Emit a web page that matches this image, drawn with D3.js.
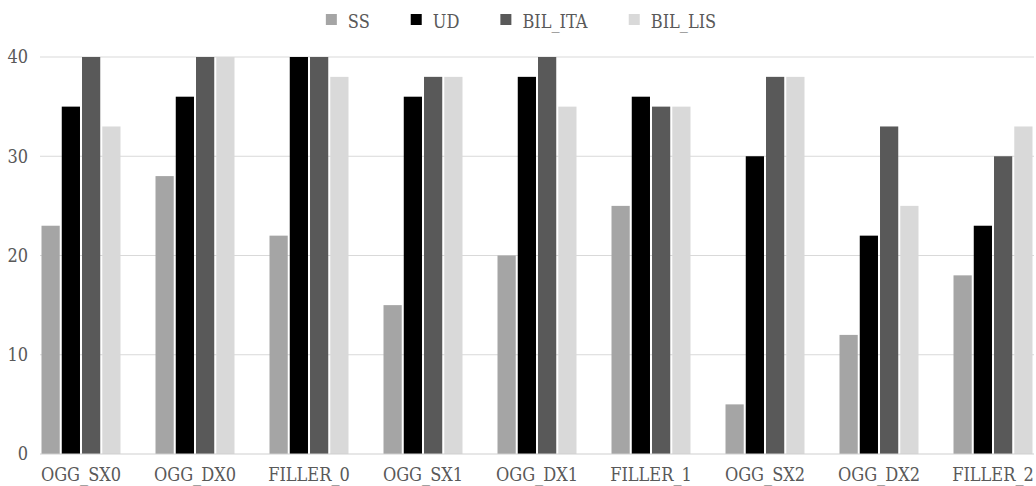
<!DOCTYPE html>
<html>
<head>
<meta charset="utf-8">
<script src="https://cdn.jsdelivr.net/npm/d3@7"></script>
<style>
  html, body { margin: 0; padding: 0; background: #ffffff; }
  svg { display: block; }
  svg text { font-family: "DejaVu Serif Condensed", "DejaVu Serif", serif !important; fill: #595959; }
</style>
</head>
<body>
<svg id="chart" width="1036" height="486"></svg>
<script>
// Categories and series
const categories = ["OGG_SX0", "OGG_DX0", "FILLER_0", "OGG_SX1", "OGG_DX1", "FILLER_1", "OGG_SX2", "OGG_DX2", "FILLER_2"];
const seriesNames = ["SS", "UD", "BIL_ITA", "BIL_LIS"];
const ssValues     = [23, 28, 22, 15, 20, 25, 5, 12, 18];
const udValues     = [35, 36, 40, 36, 38, 36, 30, 22, 23];
const bilItaValues = [40, 40, 40, 38, 40, 35, 38, 33, 30];
const bilLisValues = [33, 40, 38, 38, 35, 35, 38, 25, 33];
const yTicks = [0, 10, 20, 30, 40];
const seriesColors = ["#a5a5a5", "#000000", "#595959", "#d9d9d9"];

const seriesValues = [ssValues, udValues, bilItaValues, bilLisValues];
const rows = categories.map((c, i) => ({
  category: c,
  values: seriesNames.map((s, j) => ({ series: s, value: seriesValues[j][i] }))
}));

const svg = d3.select("#chart");
const gridLeft = 40, gridRight = 1034;
const fontSize = 18;

const y = d3.scaleLinear().domain([0, 40]).range([454, 57]);

const x0 = d3.scaleBand()
  .domain(categories)
  .range([24, 1050])
  .paddingInner(0.3)
  .paddingOuter(0.15);

const x1 = d3.scaleBand()
  .domain(seriesNames)
  .range([0, x0.bandwidth()])
  .paddingInner(0.1)
  .paddingOuter(0.02);

const color = d3.scaleOrdinal().domain(seriesNames).range(seriesColors);

// Horizontal gridlines
svg.append("g")
  .selectAll("line")
  .data(yTicks.filter(t => t > 0))
  .join("line")
  .attr("x1", gridLeft).attr("x2", gridRight)
  .attr("y1", d => y(d)).attr("y2", d => y(d))
  .attr("stroke", "#d9d9d9").attr("stroke-width", 1.2);

// Y axis labels
const yAxis = svg.append("g")
  .attr("transform", `translate(${gridLeft - 12},0)`)
  .call(d3.axisLeft(y).tickValues(yTicks).tickSize(0).tickPadding(0).tickFormat(d3.format("d")));
yAxis.select(".domain").remove();
yAxis.selectAll("text")
  .attr("font-size", fontSize)
  .attr("fill", "#595959");

// Bars
svg.append("g")
  .selectAll("g")
  .data(rows)
  .join("g")
  .attr("transform", d => `translate(${x0(d.category)},0)`)
  .selectAll("rect")
  .data(d => d.values)
  .join("rect")
  .attr("x", d => x1(d.series))
  .attr("width", x1.bandwidth())
  .attr("y", d => y(d.value))
  .attr("height", d => y(0) - y(d.value))
  .attr("fill", d => color(d.series));

// Baseline
svg.append("line")
  .attr("x1", gridLeft).attr("x2", gridRight)
  .attr("y1", y(0)).attr("y2", y(0))
  .attr("stroke", "#cfcfcf").attr("stroke-width", 1.2);

// X axis labels
const xAxis = svg.append("g")
  .attr("transform", `translate(0,${y(0)})`)
  .call(d3.axisBottom(x0).tickSize(0).tickPadding(14));
xAxis.select(".domain").remove();
xAxis.selectAll("text")
  .attr("font-size", fontSize)
  .attr("fill", "#595959");

// Legend
const legend = svg.append("g");
const items = legend.selectAll("g")
  .data(seriesNames)
  .join("g");
items.append("rect")
  .attr("width", 11).attr("height", 11)
  .attr("y", 14)
  .attr("fill", d => color(d));
items.append("text")
  .attr("x", 22).attr("y", 28)
  .attr("font-size", fontSize)
  .text(d => d);
let offset = 0;
const positions = [];
items.each(function () {
  const w = this.getBBox().width;
  positions.push(offset);
  offset += w + 41;
});
const totalWidth = offset - 41;
const startX = 521 - totalWidth / 2;
items.attr("transform", (d, i) => `translate(${startX + positions[i]},0)`);
</script>
</body>
</html>
